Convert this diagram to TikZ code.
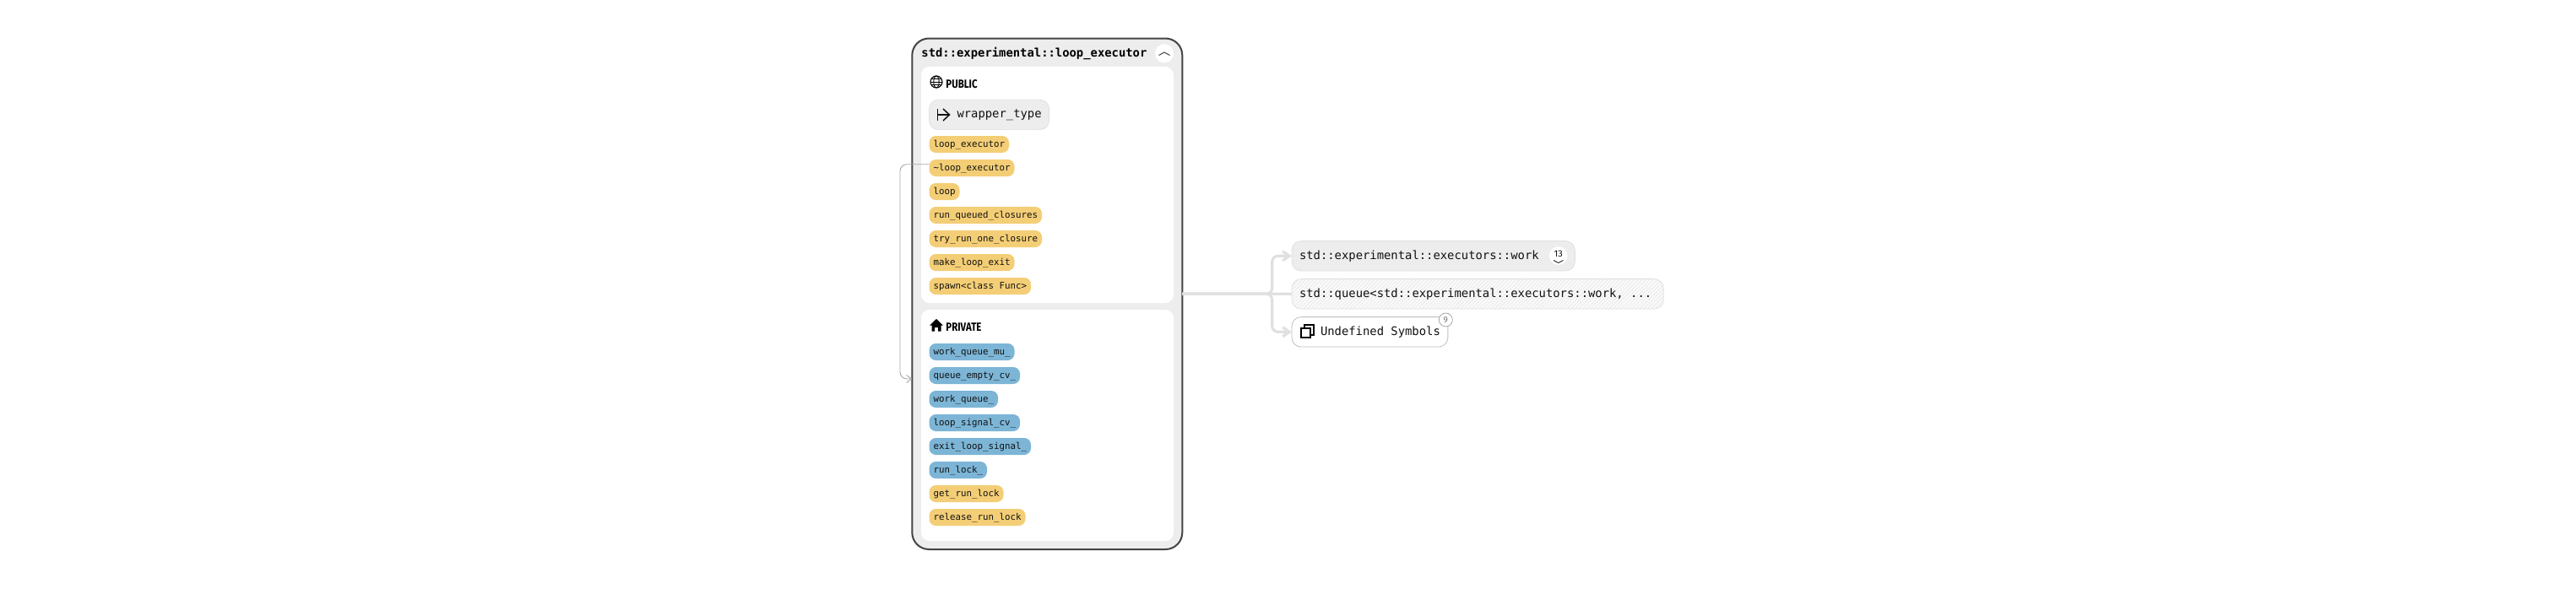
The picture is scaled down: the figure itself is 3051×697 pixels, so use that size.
\documentclass[tikz,border=0pt]{standalone}
\usepackage{fontspec}
\setmainfont{Fira Sans}
\setmonofont{DejaVu Sans Mono}
\newfontfamily\headfont[FakeStretch=0.82]{Fira Sans}
\usetikzlibrary{arrows.meta,patterns.meta}
\definecolor{panelgray}{HTML}{EDEDED}
\definecolor{edgegray}{HTML}{E0E0E0}
\definecolor{classedge}{HTML}{444444}
\definecolor{methodfill}{HTML}{F4CE76}
\definecolor{fieldfill}{HTML}{7CB5D6}
\definecolor{inkdark}{HTML}{111111}
\newcommand{\namefont}{\ttfamily\fontsize{6.93}{8}\selectfont}
\newcommand{\pillfont}{\ttfamily\fontsize{5.4}{7}\selectfont}
\begin{document}
\begin{tikzpicture}[x=0.5pt, y=-0.5pt,
    panel/.style={fill=white, rounded corners=5pt, minimum width=149.5pt,
      inner sep=0pt, outer sep=0pt},
    pill/.style={anchor=west, rounded corners=4pt, minimum height=10pt,
      inner xsep=2.5pt, inner ysep=0pt, outer sep=0pt, text=inkdark,
      font=\pillfont, text height=4.2pt, text depth=1.2pt},
    namebox/.style={anchor=west, rounded corners=5.5pt, minimum height=17.7pt,
      inner xsep=4.5pt, inner ysep=0pt, outer sep=0pt, text=inkdark, font=\namefont,
      text height=5.2pt, text depth=1.4pt, line width=0.4pt},
    head/.style={anchor=west, inner sep=0pt, font=\headfont\bfseries\fontsize{7}{8}\selectfont},
    badge/.style={circle, fill=white, inner sep=0pt},
    dep/.style={draw=edgegray, line width=1.6pt, rounded corners=3.5pt,
      -{Straight Barb[length=4pt, width=5.5pt]}},
    selfdep/.style={draw=black!35, line width=0.45pt, rounded corners=4pt,
      -{Straight Barb[length=3pt, width=4.5pt]}}]
    \useasboundingbox (0,0) rectangle (3051,697);

    \node [draw=classedge, fill=panelgray, line width=1pt, rounded corners=10pt,
      minimum width=160pt, minimum height=302.75pt, inner sep=0pt, outer sep=0pt]
      (class) at (1240.3,348.25) {};
    \node [anchor=west, inner sep=0pt, font=\namefont\bfseries, text=black]
      (title) at (1091,63) {std::experimental::loop\_executor};
    \node [badge, minimum size=11pt] (fold) at (1379,63.3) {};
    \draw [classedge, line width=0.5pt] (1372.5,65.5) -- (1379,62) -- (1385.5,65.5);

    \begin{scope}[every node/.style={panel}]
      \node [minimum height=140pt] (pub) at (1240.5,219) {};
      \node [minimum height=137pt] (prv) at (1240.5,504) {};
    \end{scope}

    \draw [line width=0.55pt] (1109,97) circle [radius=3.5pt];
    \draw [line width=0.45pt] (1109,97) ellipse [x radius=1.6pt, y radius=3.5pt];
    \draw [line width=0.45pt] (1102,97) -- (1116,97); \draw [line width=0.45pt]
    (1103,93.3) -- (1115,93.3); \draw [line width=0.45pt] (1103,100.7) -- (1115,100.7);
    \node [head] (publabel) at (1120,100) {PUBLIC};

    \fill (1109,378) -- (1116.8,385.5) -- (1114.5,385.5) -- (1114.5,392.7) --
    (1111,392.7) -- (1111,388) -- (1107,388) -- (1107,392.7) -- (1103.5,392.7)
    -- (1103.5,385.5) -- (1101.2,385.5) -- cycle;
    \node [head] (prvlabel) at (1120,388) {PRIVATE};

    \node [namebox, fill=panelgray, draw=edgegray] (alias) at (1100.5,136)
      {\kern12pt wrapper\_type};
    \draw [inkdark, line width=0.75pt] (1110.7,129) -- (1110.7,143);
    \draw [inkdark, line width=0.75pt] (1110.7,136) -- (1124,136);
    \draw [inkdark, line width=0.75pt] (1117,129) -- (1124.5,136) -- (1117,143);

    \begin{scope}[every node/.style={pill, fill=methodfill}]
      \node (m0) at (1100.5,171) {loop\_executor};
      \node (m1) at (1100.5,199) {\textasciitilde loop\_executor};
      \node (m2) at (1100.5,227) {loop};
      \node (m3) at (1100.5,255) {run\_queued\_closures};
      \node (m4) at (1100.5,283) {try\_run\_one\_closure};
      \node (m5) at (1100.5,311) {make\_loop\_exit};
      \node (m6) at (1100.5,339) {spawn<class Func>};
      \node (m7) at (1100.5,585) {get\_run\_lock};
      \node (m8) at (1100.5,613) {release\_run\_lock};
    \end{scope}

    \begin{scope}[every node/.style={pill, fill=fieldfill}]
      \node (f0) at (1100.5,417) {work\_queue\_mu\_};
      \node (f1) at (1100.5,445) {queue\_empty\_cv\_};
      \node (f2) at (1100.5,473) {work\_queue\_};
      \node (f3) at (1100.5,501) {loop\_signal\_cv\_};
      \node (f4) at (1100.5,529) {exit\_loop\_signal\_};
      \node (f5) at (1100.5,557) {run\_lock\_};
    \end{scope}

    \node [namebox, fill=panelgray, draw=edgegray] (d0) at (1530,303.3)
      {std::experimental::executors::work\kern16.85pt};
    \node [namebox, preaction={fill=black!2}, pattern={Lines[angle=45, distance=1.6pt,
      line width=0.3pt]}, pattern color=edgegray!80, draw=edgegray] (d1) at (1530,348.3)
      {std::queue<std::experimental::executors::work, ...\kern2.5pt};
    \node [namebox, fill=white, draw=black!25] (d2) at (1530,393.3)
      {\kern12.5pt Undefined Symbols};

    \node [badge, minimum size=10.8pt] (more) at (1845.7,303) {};
    \node [inner sep=0pt, font=\fontsize{5.5}{6}\selectfont, text=inkdark] (morenum)
      at (1845.7,301) {13};
    \draw [inkdark, line width=0.4pt] (1840,308.5) -- (1845.7,311.5) -- (1851.5,308.5);
    \node [badge, draw=black!35, line width=0.4pt, minimum size=8pt, text=black!55,
      font=\fontsize{5}{6}\selectfont] (count) at (1712.3,379) {9};

    \draw [line width=1pt] (1544.5,385) rectangle (1555.5,396.5);
    \draw [line width=1pt, fill=white] (1540.8,388.5) rectangle (1552.3,400);

    \coordinate (s0) at (1066,194.7);
    \coordinate (s1) at (1066,449);
    \draw [selfdep] (s0 -| m1.west) -- (s0) -- (s1) -- (s1 -| class.west);

    \coordinate (v0) at (1506.7,348.3);
    \coordinate (v1) at (1506.7,303.3);
    \coordinate (v2) at (1506.7,393.3);
    \draw [dep] (class.east) -- (v0) -- (v1) -- (d0.west);
    \draw [dep] (class.east) -- (v0) -- (v2) -- (d2.west);
    \draw [dep, -] (class.east) -- (d1.west);
\end{tikzpicture}
\end{document}
